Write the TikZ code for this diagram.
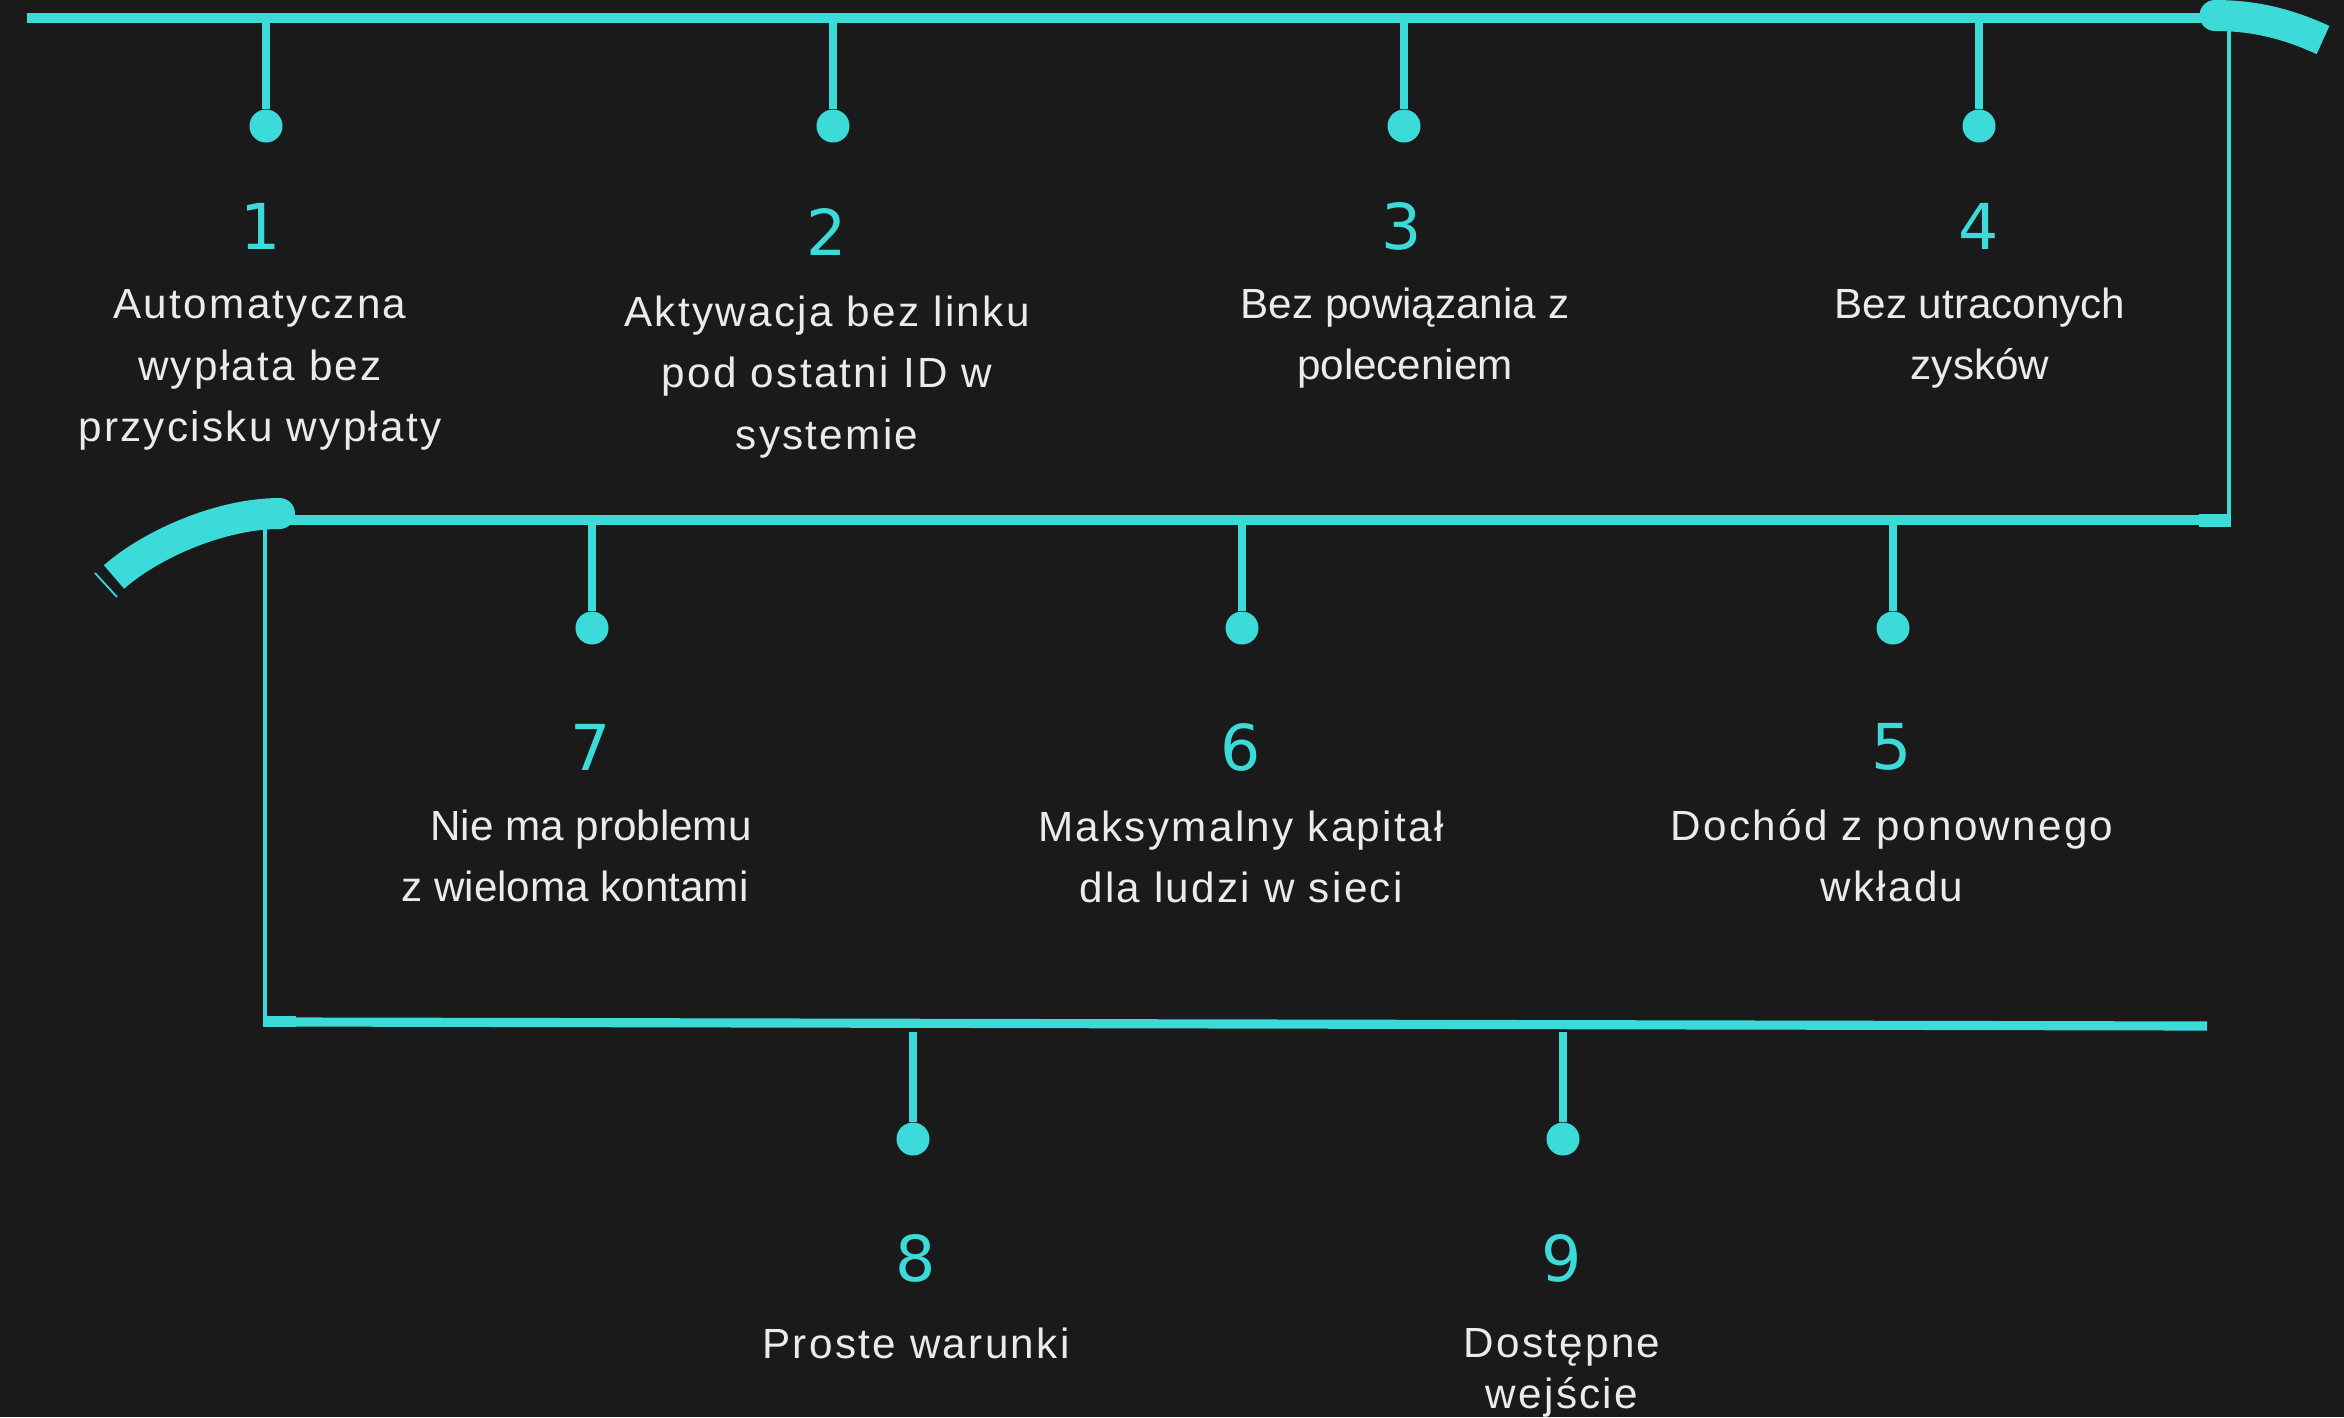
\documentclass[tikz,border=0pt]{standalone}
\usepackage{fontspec}
\setmainfont{Liberation Sans}
\newfontfamily\numfont{DejaVu Sans}
\newfontfamily\spfont[LetterSpace=5.5]{Liberation Sans}
\definecolor{bgdark}{HTML}{1A1A1A}
\definecolor{aqua}{HTML}{3CDBD9}
\definecolor{txtgray}{HTML}{EBEBEB}
\tikzset{
  rail/.style={draw=aqua, line width=2.6pt},
  thinrail/.style={draw=aqua, line width=1.3pt},
  turnarc/.style={draw=aqua, line width=8.8pt},
  stemline/.style={draw=aqua, line width=2.1pt},
  bead/.style={circle, fill=aqua, inner sep=0pt, minimum size=0.33cm},
  numtxt/.style={text=aqua, inner sep=0pt, font=\numfont\fontsize{18}{20}\selectfont},
  labtxt/.style={text=txtgray, align=center, inner sep=0pt, font=\fontsize{12}{17.4}\selectfont},
  labsp/.style={labtxt, font=\spfont\fontsize{12}{17.4}\selectfont},
}

\begin{document}
\begin{tikzpicture}[x=0.01cm,y=-0.01cm]
    \fill[bgdark] (0,0) rectangle (2344,1417);
    \useasboundingbox (0,0) rectangle (2344,1417);

    % top rail and right turn
    \draw[rail] (27,18) -- (2215,18);
    \draw[turnarc] (2215,15.5) .. controls (2255,15.5) and (2288,24) .. (2323,40);
    \fill[aqua] (2215,15.5) circle (15.5);
    \draw[thinrail] (2229,30) -- (2229,527);
    \fill[aqua] (2199,514) rectangle (2231,527);

    % middle rail and left turn
    \draw[rail] (280,520) -- (2199,520);
    \draw[turnarc] (279.5,513.5) .. controls (220,513.5) and (150,545) .. (114,577);
    \fill[aqua] (279.5,513.5) circle (15.5);
    \draw[aqua, line width=0.5pt] (95,573) -- (117,597);
    \draw[thinrail] (265,525) -- (265,1027);
    \fill[aqua] (263,1016) rectangle (296,1027);

    % bottom rail
    \draw[rail] (296,1022) -- (2207,1026);

    % row 1
    \coordinate (r1) at (266,18);
    \node[bead] (b1) at (266,126) {};
    \draw[stemline] (r1) -- (b1);
    \node[numtxt] (n1) at (261,226) {1};
    \node[labsp] (l1) at (260,370) {Automatyczna\\wypłata bez\\przycisku wypłaty};

    \coordinate (r2) at (833,18);
    \node[bead] (b2) at (833,126) {};
    \draw[stemline] (r2) -- (b2);
    \node[numtxt] (n2) at (827,232) {2};
    \node[labsp] (l2) at (827,377) {Aktywacja bez linku\\pod ostatni ID w\\systemie};

    \coordinate (r3) at (1404,18);
    \node[bead] (b3) at (1404,126) {};
    \draw[stemline] (r3) -- (b3);
    \node[numtxt] (n3) at (1402,226) {3};
    \node[labtxt] (l3) at (1405,338) {Bez powiązania z\\poleceniem};

    \coordinate (r4) at (1979,18);
    \node[bead] (b4) at (1979,126) {};
    \draw[stemline] (r4) -- (b4);
    \node[numtxt] (n4) at (1979,226) {4};
    \node[labtxt] (l4) at (1980,338) {Bez utraconych\\zysków};

    % row 2
    \coordinate (r7) at (592,520);
    \node[bead] (b7) at (592,628) {};
    \draw[stemline] (r7) -- (b7);
    \node[numtxt] (n7) at (591,747) {7};
    \node[labtxt] (l7) at (575,856) {\hspace*{0.32cm}Nie ma problemu\\z wieloma kontami};

    \coordinate (r6) at (1242,520);
    \node[bead] (b6) at (1242,628) {};
    \draw[stemline] (r6) -- (b6);
    \node[numtxt] (n6) at (1241,747) {6};
    \node[labsp] (l6) at (1241,857) {Maksymalny kapitał\\dla ludzi w sieci};

    \coordinate (r5) at (1893,520);
    \node[bead] (b5) at (1893,628) {};
    \draw[stemline] (r5) -- (b5);
    \node[numtxt] (n5) at (1892,747) {5};
    \node[labsp] (l5) at (1892,856) {Dochód z ponownego\\wkładu};

    % row 3
    \coordinate (r8) at (913,1032);
    \node[bead] (b8) at (913,1139) {};
    \draw[stemline] (r8) -- (b8);
    \node[numtxt] (n8) at (916,1258) {8};
    \node[labsp] (l8) at (916,1343) {Proste warunki};

    \coordinate (r9) at (1563,1032);
    \node[bead] (b9) at (1563,1139) {};
    \draw[stemline] (r9) -- (b9);
    \node[numtxt] (n9) at (1562,1258) {9};
    \node[labsp, font=\spfont\fontsize{12}{14.5}\selectfont] (l9) at (1562,1373) {Dostępne\\wejście};
\end{tikzpicture}
\end{document}
